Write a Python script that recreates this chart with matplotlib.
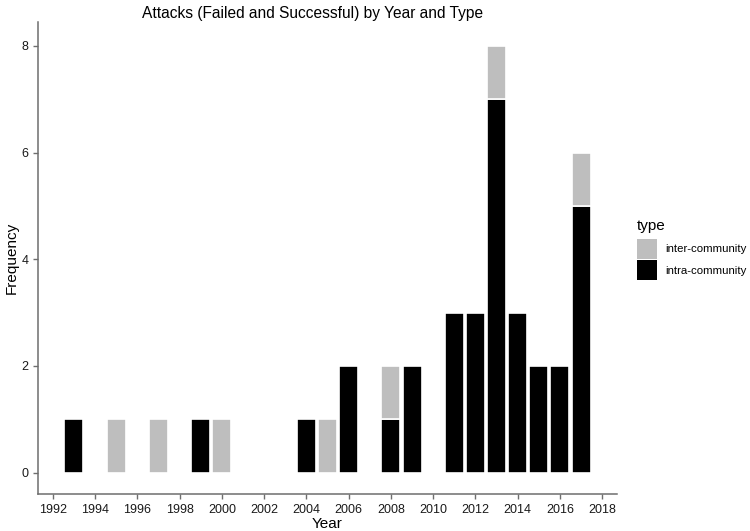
import numpy as np
import matplotlib
matplotlib.use("Agg")
import matplotlib.pyplot as plt
from matplotlib.patches import Rectangle

plt.rcParams['font.family'] = ['Liberation Sans', 'DejaVu Sans']

years = [1993, 1995, 1997, 1999, 2000, 2004, 2005, 2006, 2008, 2009,
         2011, 2012, 2013, 2014, 2015, 2016, 2017]
intra = [1, 0, 0, 1, 0, 1, 0, 2, 1, 2, 3, 3, 7, 3, 2, 2, 5]
inter = [0, 1, 1, 0, 1, 0, 1, 0, 1, 0, 0, 0, 1, 0, 0, 0, 1]
type_labels = ['inter-community', 'intra-community']
colors = {'inter-community': '#bebebe', 'intra-community': '#000000'}

W, H = 750, 531
fig = plt.figure(figsize=(7.5, 5.31), dpi=100)
ax = fig.add_axes([0.0507, 0.0697, 0.772, 0.889])

years = np.array(years)
intra = np.array(intra)
inter = np.array(inter)

m = intra > 0
ax.bar(years[m], intra[m], width=0.9, color=colors['intra-community'],
       edgecolor='white', linewidth=1.2)
m = inter > 0
ax.bar(years[m], inter[m], width=0.9, bottom=intra[m],
       color=colors['inter-community'], edgecolor='white', linewidth=1.2)

ax.set_xlim(1991.3, 2018.7)
ax.set_ylim(-0.4, 8.45)
ax.set_xticks(range(1992, 2019, 2))
ax.set_yticks([0, 2, 4, 6, 8])

for s in ['top', 'right']:
    ax.spines[s].set_visible(False)
for s in ['left', 'bottom']:
    ax.spines[s].set_color('#6e6e6e')
    ax.spines[s].set_linewidth(1.1)
ax.tick_params(colors='#6e6e6e', length=3.5, width=1, labelsize=9,
               labelcolor='#1a1a1a')

ax.set_xlabel('Year', fontsize=11, labelpad=1)
ax.set_ylabel('Frequency', fontsize=11, labelpad=2)
fig.text(0.417, 0.975, 'Attacks (Failed and Successful) by Year and Type',
         ha='center', va='center', fontsize=11.2)

# legend drawn by hand, ggplot style
fig.text(637 / W, 1 - 226 / H, 'type', ha='left', va='center', fontsize=11)
for i, t in enumerate(type_labels):
    top = 239 + i * 21
    fig.patches.append(Rectangle((637 / W, 1 - (top + 19.5) / H), 20 / W, 19.5 / H,
                                 transform=fig.transFigure, facecolor=colors[t],
                                 edgecolor='none'))
    fig.text(665 / W, 1 - (top + 10.5) / H, t, ha='left', va='center', fontsize=8.2)

fig.savefig('out.png', dpi=100)
